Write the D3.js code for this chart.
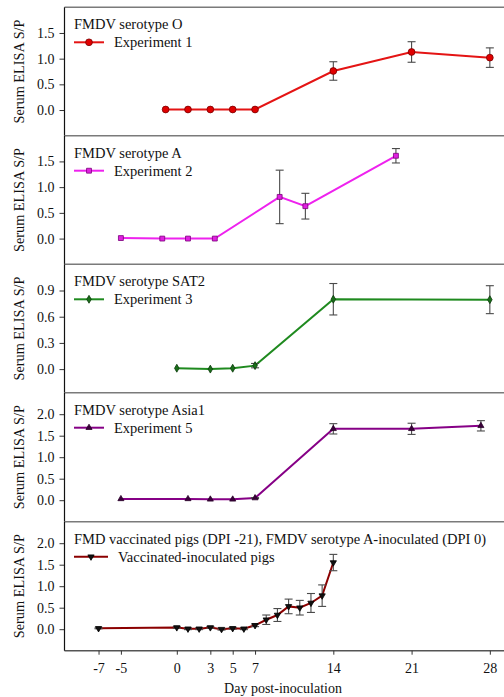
<!DOCTYPE html>
<html>
<head>
<meta charset="utf-8">
<script src="https://cdn.jsdelivr.net/npm/d3@7/dist/d3.min.js"></script>
<style>
  html, body { margin: 0; padding: 0; background: #fff; }
  svg { display: block; }
  text { font-family: "Liberation Serif", "Times New Roman", serif; fill: #111; }
</style>
</head>
<body>
<svg id="chart" width="504" height="697"></svg>
<script>
// ---------- data ----------
const xTicks = [-7, -5, 0, 3, 5, 7, 14, 21, 28];

const titles = [
  "FMDV serotype O",
  "FMDV serotype A",
  "FMDV serotype SAT2",
  "FMDV serotype Asia1",
  "FMD vaccinated pigs (DPI -21), FMDV serotype A-inoculated (DPI 0)"
];
const seriesNames = ["Experiment 1", "Experiment 2", "Experiment 3", "Experiment 5", "Vaccinated-inoculated pigs"];

const days1 = [-1, 1, 3, 5, 7, 14, 21, 28];
const vals1 = [0.01, 0.01, 0.01, 0.01, 0.01, 0.76, 1.13, 1.02];
const errs1 = [0, 0, 0, 0, 0, 0.18, 0.20, 0.19];

const days2 = [-5, -1.3, 1, 3.4, 9.2, 11.5, 19.6];
const vals2 = [0.01, 0.0, 0.0, 0.0, 0.81, 0.63, 1.61];
const errs2 = [0, 0, 0, 0, 0.52, 0.25, 0.14];

const days3 = [0, 3, 5, 7, 14, 28];
const vals3 = [0.01, 0.0, 0.01, 0.04, 0.80, 0.795];
const errs3 = [0, 0, 0, 0.025, 0.18, 0.16];

const days4 = [-5, 1, 3, 5, 7, 14, 21, 27.2];
const vals4 = [0.03, 0.03, 0.02, 0.02, 0.05, 1.66, 1.66, 1.73];
const errs4 = [0, 0, 0, 0, 0.01, 0.12, 0.13, 0.12];

const days5 = [-7, 0, 1, 2, 3, 4, 5, 6, 7, 8, 9, 10, 11, 12, 13, 14];
const vals5 = [0.02, 0.04, 0.01, 0.01, 0.04, 0.0, 0.02, 0.01, 0.09, 0.22, 0.33, 0.53, 0.50, 0.61, 0.78, 1.55];
const errs5 = [0.01, 0.02, 0.02, 0.02, 0.02, 0.02, 0.02, 0.02, 0.03, 0.11, 0.15, 0.17, 0.17, 0.22, 0.25, 0.19];

const yDomains = [[-0.5, 2.0], [-0.5, 2.0], [-0.27, 1.2], [-0.5, 2.5], [-0.5, 2.5]];
const yTickSets = [
  [0, 0.5, 1.0, 1.5],
  [0, 0.5, 1.0, 1.5],
  [0, 0.3, 0.6, 0.9],
  [0, 0.5, 1.0, 1.5, 2.0],
  [0, 0.5, 1.0, 1.5, 2.0]
];

// ---------- layout / style ----------
const panelEdges = [7.3, 135.7, 264.3, 392.7, 521.7, 650.7];
const styles = [
  { line: "#e41414", fill: "#e00000", stroke: "#7a0000", sym: d3.symbolCircle, size: 36, rot: 0 },
  { line: "#ee22ee", fill: "#e020e0", stroke: "#7a007a", sym: d3.symbolSquare, size: 24, rot: 0 },
  { line: "#1f8a1f", fill: "#1a6e1a", stroke: "#0a3a0a", sym: d3.symbolDiamond, size: 18, rot: 0 },
  { line: "#860086", fill: "#3a003a", stroke: "#2a002a", sym: d3.symbolTriangle, size: 16, rot: 0 },
  { line: "#8b0000", fill: "#111", stroke: "#000", sym: d3.symbolTriangle, size: 17, rot: 180 }
];
const legendLineLen = [30, 30, 30, 30, 34];

const allDays = [days1, days2, days3, days4, days5];
const allVals = [vals1, vals2, vals3, vals4, vals5];
const allErrs = [errs1, errs2, errs3, errs4, errs5];

const svg = d3.select("#chart");
const x = d3.scaleLinear().domain([-10, 30]).range([65, 512.2]);
const left = 64.5;

for (let i = 0; i < 5; i++) {
  const top = panelEdges[i], bottom = panelEdges[i + 1];
  const y = d3.scaleLinear().domain(yDomains[i]).range([bottom, top]);
  const g = svg.append("g");
  const st = styles[i];

  // panel frame lines
  g.append("line").attr("x1", left).attr("x2", 520).attr("y1", top).attr("y2", top)
    .attr("stroke", "#7a7a7a").attr("stroke-width", 1.6);
  if (i === 4) {
    g.append("line").attr("x1", left).attr("x2", 520).attr("y1", bottom).attr("y2", bottom)
      .attr("stroke", "#555").attr("stroke-width", 1.6);
  }

  // y axis
  const yAxis = d3.axisLeft(y).tickValues(yTickSets[i]).tickFormat(d3.format(".1f"))
    .tickSize(5).tickPadding(5);
  const ya = g.append("g").attr("transform", `translate(${left},0)`).call(yAxis);
  ya.select(".domain").remove();
  ya.selectAll(".tick line").attr("stroke", "#333");
  ya.selectAll(".tick text").style("font-family", "'Liberation Serif', serif").style("font-size", "14px").attr("fill", "#111");
  g.append("line").attr("x1", left).attr("x2", left).attr("y1", top).attr("y2", bottom)
    .attr("stroke", "#111").attr("stroke-width", 1.2);

  // y label
  g.append("text")
    .attr("transform", `translate(24,${(top + bottom) / 2}) rotate(-90)`)
    .attr("text-anchor", "middle")
    .style("font-size", "14.3px")
    .text("Serum ELISA S/P");

  const days = allDays[i], vals = allVals[i], errs = allErrs[i];
  const pts = days.map((d, k) => ({ d, v: vals[k], e: errs[k] }));

  // line
  g.append("path").datum(pts)
    .attr("fill", "none").attr("stroke", st.line).attr("stroke-width", 2)
    .attr("d", d3.line().x(p => x(p.d)).y(p => y(p.v)));

  // error bars
  const eb = g.append("g").attr("stroke", "#4a4a4a").attr("stroke-width", 1.1);
  pts.filter(p => p.e > 0).forEach(p => {
    const cx = x(p.d), y1 = y(p.v + p.e), y2 = y(p.v - p.e);
    eb.append("line").attr("x1", cx).attr("x2", cx).attr("y1", y1).attr("y2", y2);
    eb.append("line").attr("x1", cx - 4).attr("x2", cx + 4).attr("y1", y1).attr("y2", y1);
    eb.append("line").attr("x1", cx - 4).attr("x2", cx + 4).attr("y1", y2).attr("y2", y2);
  });

  // markers
  const sym = d3.symbol().type(st.sym).size(st.size);
  g.selectAll(".mk").data(pts).enter().append("path")
    .attr("d", sym)
    .attr("transform", p => `translate(${x(p.d)},${y(p.v)}) rotate(${st.rot})`)
    .attr("fill", st.fill).attr("stroke", st.stroke).attr("stroke-width", 0.8);

  // legend
  g.append("text").attr("x", 74).attr("y", top + 22).style("font-size", "14.5px").text(titles[i]);
  const ly = top + 35;
  const ll = legendLineLen[i];
  g.append("line").attr("x1", 74).attr("x2", 74 + ll).attr("y1", ly).attr("y2", ly)
    .attr("stroke", st.line).attr("stroke-width", 2);
  g.append("path").attr("d", sym)
    .attr("transform", `translate(${74 + ll / 2},${ly}) rotate(${st.rot})`)
    .attr("fill", st.fill).attr("stroke", st.stroke).attr("stroke-width", 0.8);
  g.append("text").attr("x", 74 + ll + 10).attr("y", ly + 5).style("font-size", "14.5px").text(seriesNames[i]);

  // x axis on bottom panel
  if (i === 4) {
    const xAxis = d3.axisBottom(x).tickValues(xTicks).tickFormat(d => String(d)).tickSize(4).tickPadding(8);
    const xa = g.append("g").attr("transform", `translate(0,${bottom})`).call(xAxis);
    xa.select(".domain").remove();
    xa.selectAll(".tick line").attr("stroke", "#333");
    xa.selectAll(".tick text").style("font-family", "'Liberation Serif', serif").style("font-size", "14px").attr("fill", "#111");
    g.append("text").attr("x", 283).attr("y", 693).attr("text-anchor", "middle")
      .style("font-size", "14px").text("Day post-inoculation");
  }
}
</script>
</body>
</html>
